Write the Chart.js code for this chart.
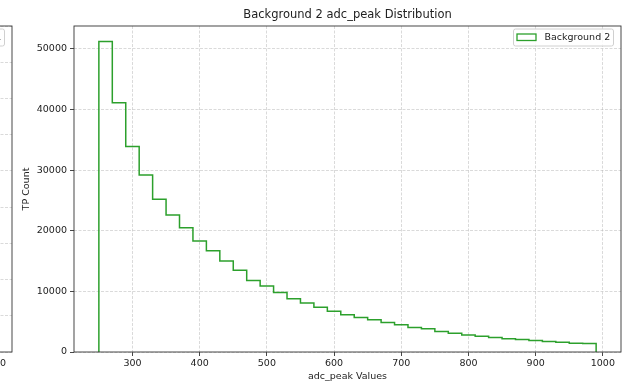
<!DOCTYPE html>
<html>
<head>
<meta charset="utf-8">
<script src="https://cdn.jsdelivr.net/npm/chart.js@4.4.1/dist/chart.umd.min.js"></script>
<style>
  body { margin: 0; background: #fff; overflow: hidden; }
  .wrap { position: absolute; top: 0; width: 633px; height: 384px; }
  #left { left: -609px; }
  #main { left: 0; }
</style>
</head>
<body>
<div class="wrap" id="left"><canvas id="leftChart" width="633" height="384"></canvas></div>
<div class="wrap" id="main"><canvas id="myChart" width="633" height="384"></canvas></div>
<script>
// histogram bin edges (adc_peak) and counts per bin
var binEdges = [250, 270, 290, 310, 330, 350, 370, 390, 410, 430, 450, 470, 490, 510, 530, 550, 570, 590, 610,
                630, 650, 670, 690, 710, 730, 750, 770, 790, 810, 830, 850, 870, 890, 910, 930, 950, 970, 990];
var counts = [51200, 41100, 33900, 29200, 25200, 22600, 20500, 18300, 16700, 15000, 13500, 11800, 10900,
              9800, 8800, 8100, 7400, 6700, 6150, 5700, 5300, 4850, 4500, 4050, 3850, 3400, 3100, 2800,
              2600, 2400, 2200, 2050, 1900, 1750, 1600, 1450, 1400];
var xTicks = [300, 400, 500, 600, 700, 800, 900, 1000];
var yTicks = [0, 10000, 20000, 30000, 40000, 50000];
// neighbouring subplot, only its right edge is visible
var leftYTicks = [0, 1, 2, 3, 4, 5, 6, 7, 8, 9];

var FONT = "'DejaVu Sans', sans-serif";
var green = "#2ca02c";

function stepPoints(edges, vals) {
  var pts = [{x: edges[0], y: 0}];
  for (var i = 0; i < vals.length; i++) pts.push({x: edges[i], y: vals[i]});
  pts.push({x: edges[edges.length - 1], y: 0});
  return pts;
}

var framePlugin = {
  id: 'frame',
  afterDraw: function(chart, args, opts) {
    var c = chart.ctx, a = chart.chartArea;
    c.save();
    // title over the plot area
    c.fillStyle = '#222';
    c.font = '11.5px ' + FONT;
    c.textAlign = 'center';
    c.textBaseline = 'middle';
    c.fillText(opts.title, (a.left + a.right) / 2, 15);
    // legend box, top right inside the axes
    var bx = a.right - 108, by = a.top + 2.5, bw = 100, bh = 17;
    c.fillStyle = 'rgba(255,255,255,0.8)';
    c.strokeStyle = '#d0d0d0';
    c.lineWidth = 1;
    c.beginPath();
    c.roundRect(bx + 0.5, by + 0.5, bw, bh, 2);
    c.fill();
    c.stroke();
    c.strokeStyle = opts.color;
    c.lineWidth = 1.3;
    c.strokeRect(bx + 4, by + 5.5, 19, 6.5);
    c.fillStyle = '#222';
    c.font = '9.5px ' + FONT;
    c.textAlign = 'left';
    c.fillText(opts.label, bx + 31.5, by + 9);
    // spines
    c.strokeStyle = '#333';
    c.lineWidth = 0.9;
    c.strokeRect(a.left, a.top, a.right - a.left, a.bottom - a.top);
    c.restore();
  }
};

function makeConfig(label, pts, ymax, yt, title) {
  var gridOpts = {
    color: 'rgba(176,176,176,0.6)', lineWidth: 0.8,
    tickColor: '#333', tickLength: 4, tickWidth: 0.9, tickBorderDash: []
  };
  return {
    type: 'line',
    data: {
      datasets: [{
        label: label,
        data: pts,
        borderColor: green,
        borderWidth: 1.5,
        pointRadius: 0,
        stepped: 'before',
        fill: false
      }]
    },
    plugins: [framePlugin],
    options: {
      responsive: false,
      animation: false,
      layout: { padding: { left: 0, top: 26, right: 12, bottom: 0 } },
      plugins: {
        legend: { display: false },
        tooltip: { enabled: false },
        frame: { title: title, label: label, color: green }
      },
      scales: {
        x: {
          type: 'linear',
          min: 213,
          max: 1027,
          afterBuildTicks: function(s) { s.ticks = xTicks.map(function(v) { return {value: v}; }); },
          afterFit: function(s) { s.height = 32; },
          border: { display: false, dash: [3, 1.5] },
          grid: gridOpts,
          ticks: { color: '#222', font: { family: FONT, size: 9.5 }, padding: 2, maxRotation: 0,
                   callback: function(v) { return v; } },
          title: { display: true, text: 'adc_peak Values', color: '#222',
                   font: { family: FONT, size: 9.5 }, padding: { top: 0, bottom: 2 } }
        },
        y: {
          min: 0,
          max: ymax,
          afterBuildTicks: function(s) { s.ticks = yt.map(function(v) { return {value: v}; }); },
          afterFit: function(s) { s.width = 74; },
          border: { display: false, dash: [3, 1.5] },
          grid: gridOpts,
          ticks: { color: '#222', font: { family: FONT, size: 9.5 }, padding: 3,
                   callback: function(v) { return v; } },
          title: { display: true, text: 'TP Count', color: '#222',
                   font: { family: FONT, size: 9.5 }, padding: { top: 21, bottom: 0 } }
        }
      }
    }
  };
}

new Chart(document.getElementById('leftChart'),
  makeConfig('Background 1', [], 9, leftYTicks, 'Background 1 adc_peak Distribution'));

var myChart = new Chart(document.getElementById('myChart'),
  makeConfig('Background 2', stepPoints(binEdges, counts), Math.max.apply(null, counts) * 1.05, yTicks,
             'Background 2 adc_peak Distribution'));
</script>
</body>
</html>
